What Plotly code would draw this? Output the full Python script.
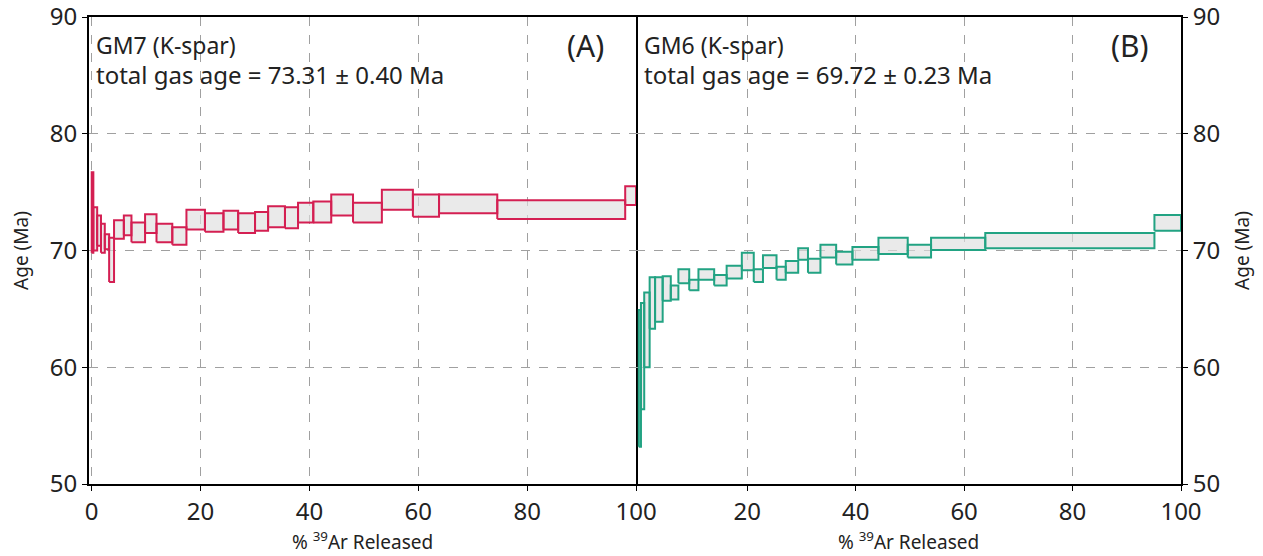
import plotly.graph_objects as go
from plotly.subplots import make_subplots

# ---- Data (step-heating age spectra) ----
# cumulative % 39Ar released (step boundaries)
gm7_cum = [0.0, 0.3, 1.0, 1.7, 2.4, 3.2, 4.1, 5.9, 7.3, 9.8, 11.9, 14.8, 17.4, 20.8,
           24.2, 26.9, 30.0, 32.4, 35.5, 37.9, 40.7, 44.0, 48.0, 53.3, 59.0, 63.8,
           74.5, 98.0, 100.0]
gm7_age_lo = [69.8, 70.0, 70.4, 69.8, 70.1, 67.3, 71.0, 71.3, 70.7, 71.5, 70.7, 70.5,
              71.8, 71.6, 71.8, 71.5, 71.7, 72.0, 71.9, 72.4, 72.4, 73.0, 72.4, 73.5,
              72.9, 73.2, 72.7, 73.9]
gm7_age_hi = [76.7, 73.7, 73.0, 72.3, 71.4, 71.1, 72.6, 73.0, 72.4, 73.1, 72.3, 72.0,
              73.5, 73.2, 73.4, 73.2, 73.3, 73.8, 73.7, 74.1, 74.2, 74.8, 74.1, 75.2,
              74.8, 74.8, 74.3, 75.5]

gm6_cum = [0.0, 0.4, 1.0, 2.0, 3.0, 4.4, 5.9, 7.3, 9.3, 11.0, 13.9, 16.2, 19.0, 21.2,
           22.9, 25.4, 27.1, 29.4, 31.2, 33.5, 36.4, 39.4, 44.2, 49.6, 53.9, 63.9,
           95.1, 100.0]
gm6_age_lo = [53.2, 56.4, 60.0, 63.3, 63.9, 65.7, 65.8, 67.2, 66.6, 67.5, 67.0, 67.6,
              68.3, 67.3, 68.5, 67.5, 68.1, 69.2, 68.1, 69.4, 68.8, 69.2, 69.7, 69.4,
              70.05, 70.2, 71.7]
gm6_age_hi = [64.9, 65.5, 66.4, 67.7, 67.7, 67.8, 67.0, 68.4, 67.5, 68.4, 67.9, 68.7,
              69.8, 68.4, 69.6, 68.6, 69.1, 70.2, 69.3, 70.5, 69.9, 70.3, 71.1, 70.5,
              71.1, 71.5, 73.05]

panel_names = ["GM7 (K-spar)", "GM6 (K-spar)"]
total_gas = ["total gas age = 73.31 ± 0.40 Ma", "total gas age = 69.72 ± 0.23 Ma"]
panel_tags = ["(A)", "(B)"]
x_ticks_left = [0, 20, 40, 60, 80, 100]
x_ticks_right = [20, 40, 60, 80, 100]
y_ticks = [50, 60, 70, 80, 90]

RED = "#d41f52"
GREEN = "#22a383"
FILL = "rgba(222,222,222,0.65)"
FONT = "Noto Sans"
TXT = "#222"


def boxes(cum, lo, hi):
    xs, ys = [], []
    for i in range(len(lo)):
        x0, x1 = cum[i], cum[i + 1]
        xs += [x0, x1, x1, x0, x0, None]
        ys += [lo[i], lo[i], hi[i], hi[i], lo[i], None]
    return xs, ys


fig = make_subplots(rows=1, cols=2, horizontal_spacing=0.0)

for col, (cum, lo, hi, color) in enumerate(
        [(gm7_cum, gm7_age_lo, gm7_age_hi, RED),
         (gm6_cum, gm6_age_lo, gm6_age_hi, GREEN)], start=1):
    xs, ys = boxes(cum, lo, hi)
    fig.add_trace(go.Scatter(x=xs, y=ys, mode="lines", fill="toself",
                             fillcolor=FILL, line=dict(color=color, width=2),
                             hoverinfo="skip", showlegend=False), row=1, col=col)

axis_common = dict(showline=True, linecolor="black", linewidth=2, mirror=True,
                   showgrid=True, gridcolor="#a0a0a0", griddash="dash", gridwidth=1,
                   zeroline=False, ticks="outside", ticklen=5, tickcolor="black",
                   automargin=False, ticklabeloverflow="allow",
                   tickfont=dict(family=FONT, size=24, color=TXT))

fig.update_xaxes(**axis_common, range=[-0.5, 100])
fig.update_xaxes(tickvals=x_ticks_left, row=1, col=1)
fig.update_xaxes(tickvals=x_ticks_right, row=1, col=2)
fig.update_xaxes(title=dict(text="% <sup>39</sup>Ar Released",
                            font=dict(family=FONT, size=19, color=TXT), standoff=8))
fig.update_yaxes(**axis_common, range=[50, 90], tickvals=y_ticks,
                 title=dict(text="Age (Ma)", font=dict(family=FONT, size=19, color=TXT),
                            standoff=16))
fig.update_yaxes(side="left", row=1, col=1)
fig.update_yaxes(side="right", mirror=False, row=1, col=2)

fig.update_layout(
    width=1263, height=556,
    margin=dict(l=89, r=82, t=17, b=72),
    plot_bgcolor="white", paper_bgcolor="white",
    showlegend=False,
)
fig.update_xaxes(domain=[0.0, 0.501], row=1, col=1)
fig.update_xaxes(domain=[0.501, 1.0], row=1, col=2)

for i, (xr, yr) in enumerate([("x domain", "y domain"), ("x2 domain", "y2 domain")]):
    fig.add_annotation(xref=xr, yref=yr, x=0.01, y=0.94, xanchor="left", yanchor="middle",
                       text=panel_names[i], showarrow=False,
                       font=dict(family=FONT, size=23, color=TXT))
    fig.add_annotation(xref=xr, yref=yr, x=0.01, y=0.876, xanchor="left", yanchor="middle",
                       text=total_gas[i], showarrow=False,
                       font=dict(family=FONT, size=24, color=TXT))
    fig.add_annotation(xref=xr, yref=yr, x=0.907, y=0.94, xanchor="center", yanchor="middle",
                       text=panel_tags[i], showarrow=False,
                       font=dict(family=FONT, size=30, color=TXT))

fig.write_html("out.html", config={"displayModeBar": False},
               post_script="document.body.style.margin='0';")
